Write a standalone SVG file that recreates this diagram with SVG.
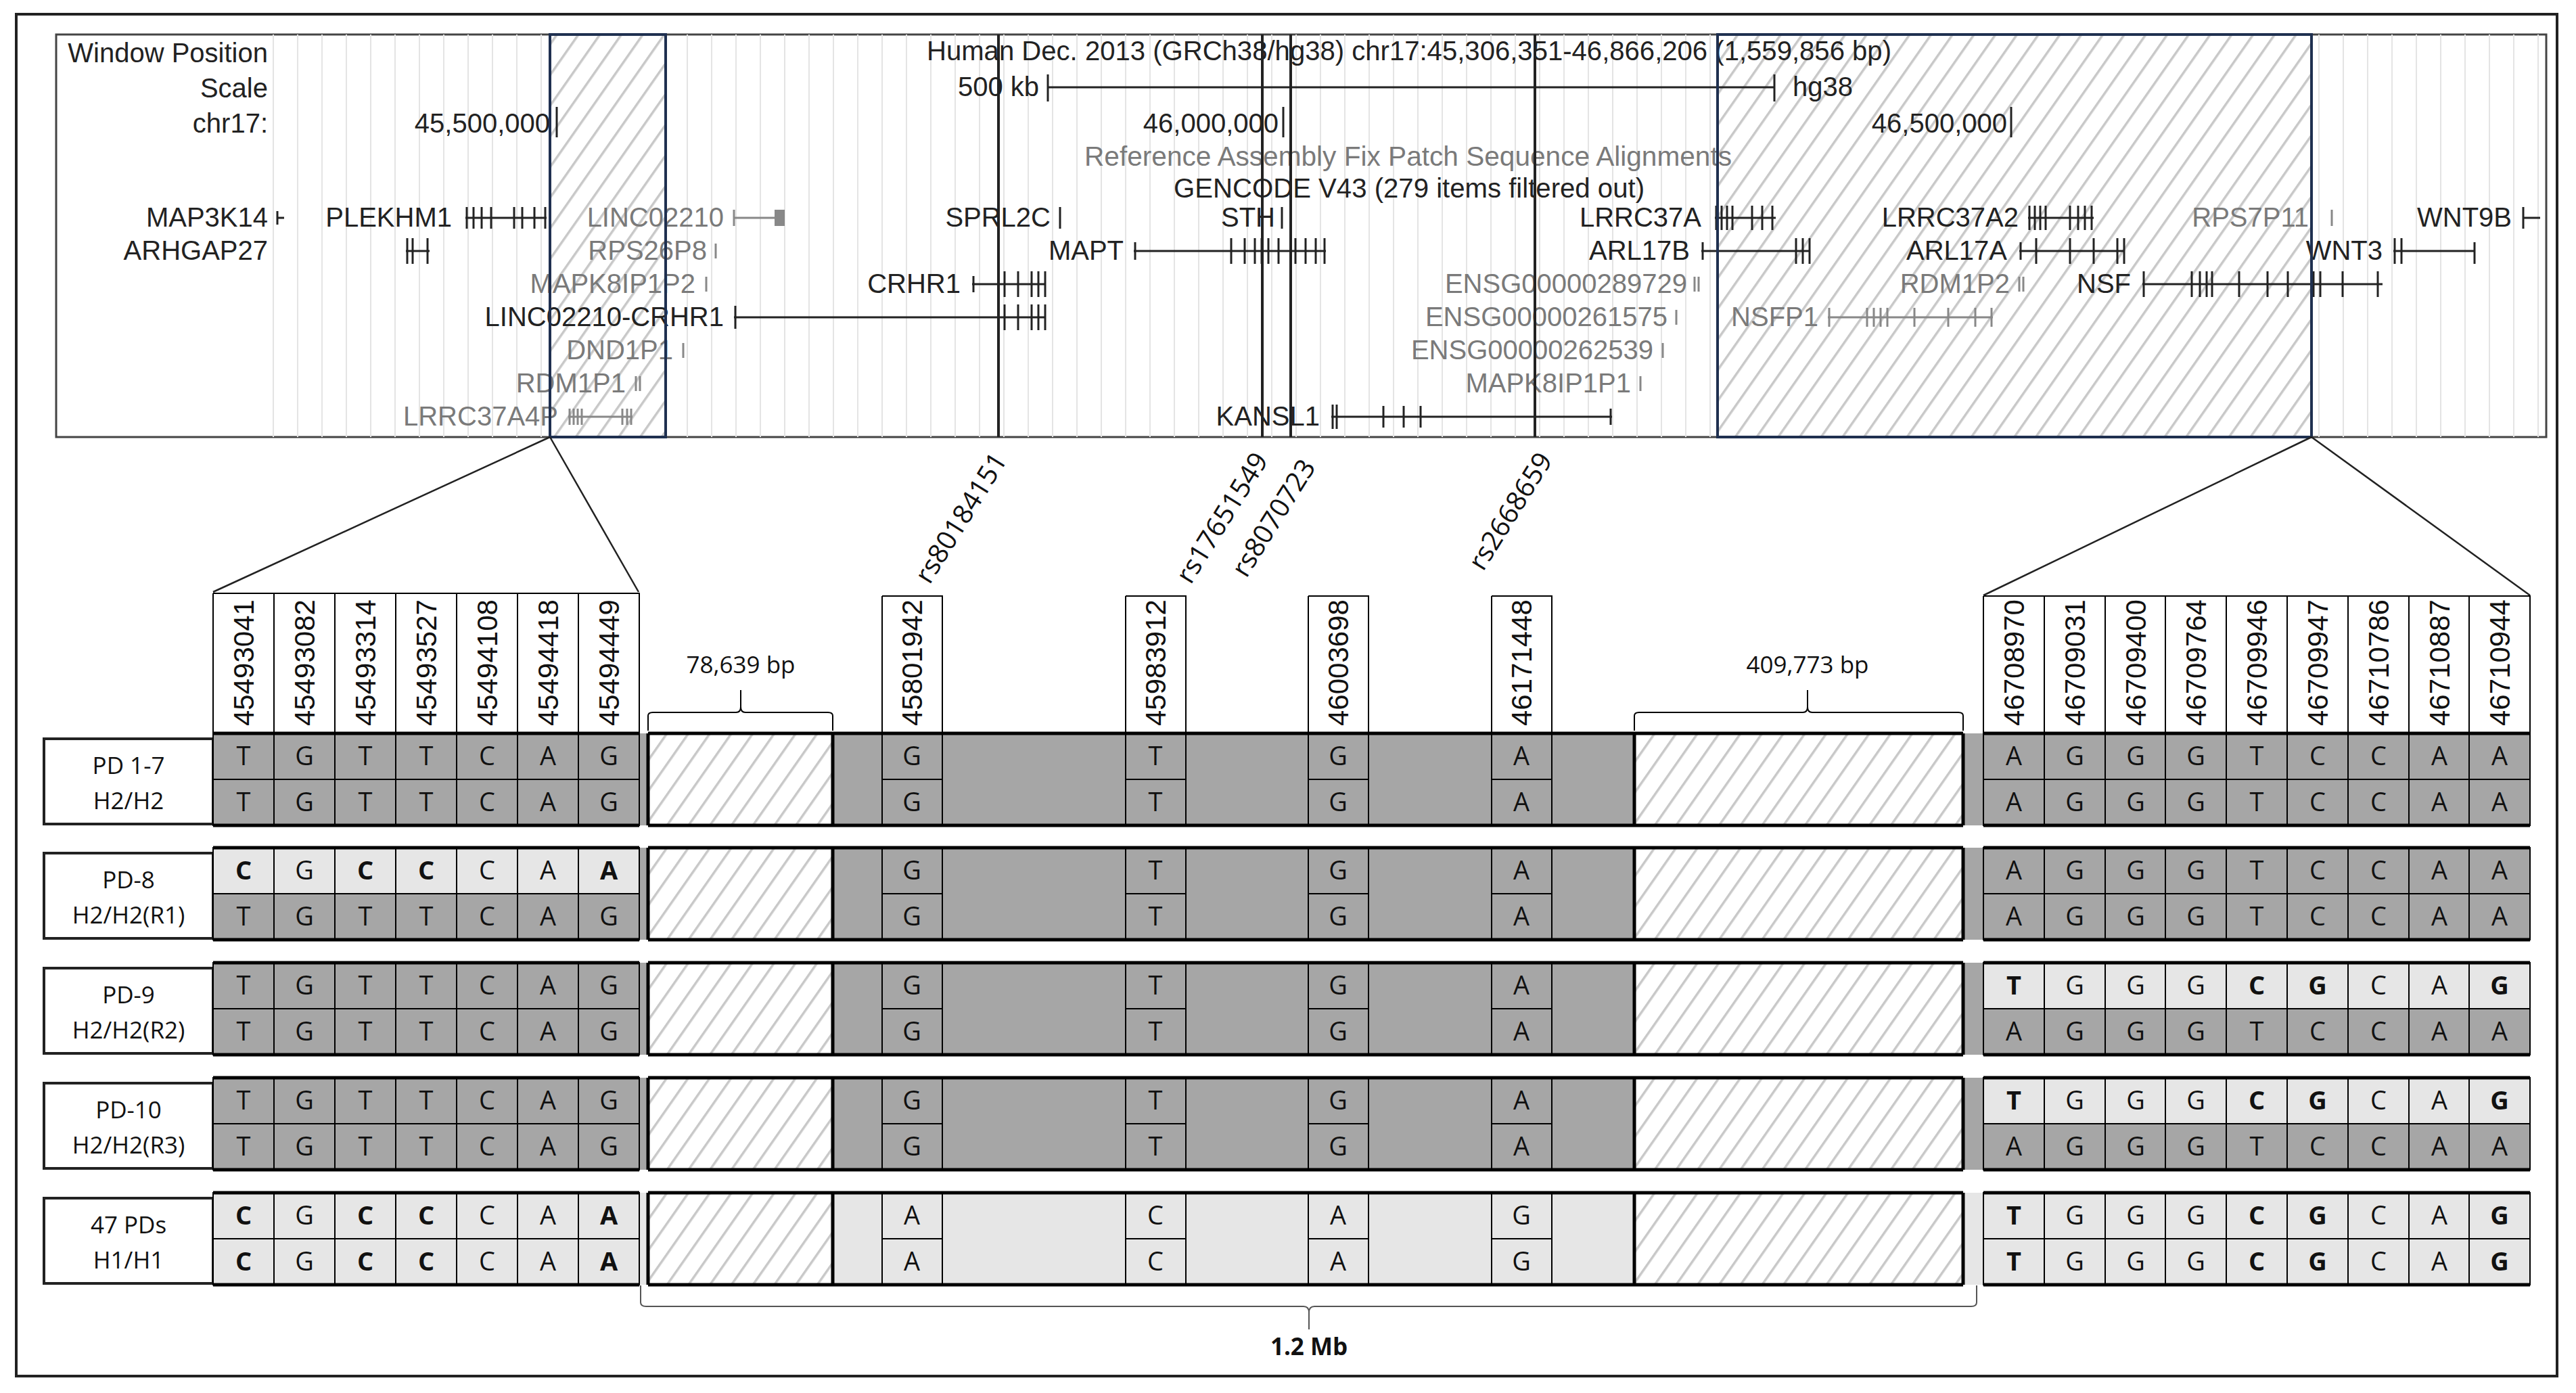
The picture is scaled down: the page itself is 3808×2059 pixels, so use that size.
<svg xmlns="http://www.w3.org/2000/svg" xmlns:xlink="http://www.w3.org/1999/xlink" width="3808" height="2059" viewBox="0 0 3808 2059">
<style>
.t{font-family:"Liberation Sans",Arial,sans-serif;font-size:40px;fill:#222}
.g{font-family:"Liberation Sans",Arial,sans-serif;font-size:40px;fill:#7a7a7a}
.e{text-anchor:end}
.c{font-family:"Open Sans","Liberation Sans",sans-serif;font-size:38px;fill:#111;text-anchor:middle}
.b{font-weight:bold}
.n{font-family:"Liberation Sans",Arial,sans-serif;font-size:42px;fill:#111}
.lb{font-family:"Open Sans","Liberation Sans",sans-serif;font-size:35px;fill:#111;text-anchor:middle}
.gl{stroke:#222;stroke-width:3;fill:none}
.gg{stroke:#888;stroke-width:3;fill:none}
.dk{fill:#a6a6a6}
.lt{fill:#e6e6e6}
.th{stroke:#000;stroke-width:2;fill:none}
.tk{stroke:#000;stroke-width:5;fill:none}
</style>
<defs>
<pattern id="hatch" patternUnits="userSpaceOnUse" width="26" height="26" patternTransform="rotate(35)">
<rect width="26" height="26" fill="#fff"/><line x1="0" y1="0" x2="0" y2="26" stroke="#c8c8c8" stroke-width="7"/>
</pattern>
<text id="L2" class="c">
<tspan x="360">T</tspan><tspan x="450">G</tspan><tspan x="540">T</tspan><tspan x="630">T</tspan><tspan x="720">C</tspan><tspan x="810">A</tspan><tspan x="900">G</tspan></text>
<text id="L1" class="c">
<tspan x="360" class="b">C</tspan><tspan x="450">G</tspan><tspan x="540" class="b">C</tspan><tspan x="630" class="b">C</tspan><tspan x="720">C</tspan><tspan x="810">A</tspan><tspan x="900" class="b">A</tspan></text>
<text id="M2" class="c"><tspan x="1348">G</tspan><tspan x="1708">T</tspan><tspan x="1978">G</tspan><tspan x="2249">A</tspan></text>
<text id="M1" class="c"><tspan x="1348">A</tspan><tspan x="1708">C</tspan><tspan x="1978">A</tspan><tspan x="2249">G</tspan></text>
<text id="R2" class="c"><tspan x="2977">A</tspan><tspan x="3067">G</tspan><tspan x="3157">G</tspan><tspan x="3246">G</tspan><tspan x="3336">T</tspan><tspan x="3426">C</tspan><tspan x="3516">C</tspan><tspan x="3606">A</tspan><tspan x="3695">A</tspan></text>
<text id="R1" class="c"><tspan x="2977" class="b">T</tspan><tspan x="3067">G</tspan><tspan x="3157">G</tspan><tspan x="3246">G</tspan><tspan x="3336" class="b">C</tspan><tspan x="3426" class="b">G</tspan><tspan x="3516">C</tspan><tspan x="3606">A</tspan><tspan x="3695" class="b">G</tspan></text>
<path id="grid" d="M405 0V136M495 0V136M585 0V136M675 0V136M765 0V136M855 0V136M3022 0V136M3112 0V136M3201 0V136M3291 0V136M3381 0V136M3471 0V136M3561 0V136M3650 0V136M315 68H945M2932 68H3740M1304 68H1393M1664 68H1753M1934 68H2023M2205 68H2294" class="th" stroke-width="2.5"/>
<g id="frame">
<rect x="315" y="0" width="630" height="136" class="th"/>
<rect x="2932" y="0" width="808" height="136" class="th"/>
<rect x="1304" y="0" width="89" height="136" class="th"/>
<rect x="1664" y="0" width="89" height="136" class="th"/>
<rect x="1934" y="0" width="89" height="136" class="th"/>
<rect x="2205" y="0" width="89" height="136" class="th"/>
<rect x="958" y="0" width="273" height="136" fill="url(#hatch)"/>
<rect x="2416" y="0" width="486" height="136" fill="url(#hatch)"/>
<path d="M315 0H945M315 136H945M958 0H1231M958 136H1231M1231 0H2416M1231 136H2416M2416 0H2902M2416 136H2902M2932 0H3740M2932 136H3740M958 0V136M1231 0V136M2416 0V136M2902 0V136" class="tk" stroke-width="4"/>
</g>
</defs>
<rect width="3808" height="2059" fill="#fff"/>
<rect x="24" y="21" width="3756" height="2013" fill="none" stroke="#222" stroke-width="4"/>

<g id="browser">
<rect x="83" y="51" width="3681" height="595" fill="#fff" stroke="#444" stroke-width="3"/>
<g stroke="#e4e4e4" stroke-width="2">
<path d="M404 51V646M440 51V646M476 51V646M512 51V646M548 51V646M584 51V646M620 51V646M656 51V646M692 51V646M728 51V646M764 51V646M800 51V646M836 51V646M872 51V646M908 51V646M944 51V646M980 51V646M1016 51V646M1052 51V646M1088 51V646M1124 51V646M1160 51V646M1196 51V646M1232 51V646M1268 51V646M1304 51V646M1340 51V646M1376 51V646M1412 51V646M1448 51V646M1484 51V646M1520 51V646M1556 51V646M1592 51V646M1628 51V646M1664 51V646M1700 51V646M1736 51V646M1772 51V646M1808 51V646M1844 51V646M1880 51V646M1916 51V646M1952 51V646M1988 51V646M2024 51V646M2060 51V646M2096 51V646M2132 51V646M2168 51V646M2204 51V646M2240 51V646M2276 51V646M2312 51V646M2348 51V646M2384 51V646M2420 51V646M2456 51V646M2492 51V646M2528 51V646M3428 51V646M3464 51V646M3500 51V646M3536 51V646M3572 51V646M3608 51V646M3644 51V646M3680 51V646M3716 51V646M3752 51V646"/>
</g>
<rect x="813" y="51" width="171" height="595" fill="url(#hatch)"/>
<rect x="2539" y="51" width="878" height="595" fill="url(#hatch)"/>
<text class="t e" x="396" y="92">Window Position</text>
<text class="t e" x="396" y="144">Scale</text>
<text class="t e" x="396" y="196">chr17:</text>
<text class="t" x="1370" y="89" textLength="1426" lengthAdjust="spacingAndGlyphs">Human Dec. 2013 (GRCh38/hg38)   chr17:45,306,351-46,866,206 (1,559,856 bp)</text>
<text class="t e" x="1536" y="142">500 kb</text>
<path d="M1549 129H2623M1549 110V150M2623 110V150" class="gl"/>
<text class="t" x="2650" y="142">hg38</text>
<text class="t e" x="813" y="196">45,500,000</text><path d="M823 158V203" class="gl"/>
<text class="t e" x="1890" y="196">46,000,000</text><path d="M1897 158V203" class="gl"/>
<text class="t e" x="2967" y="196">46,500,000</text><path d="M2973 158V203" class="gl"/>
<text class="g" x="1603" y="245" textLength="957" lengthAdjust="spacingAndGlyphs">Reference Assembly Fix Patch Sequence Alignments</text>
<text class="t" x="1735" y="292" textLength="696" lengthAdjust="spacingAndGlyphs">GENCODE V43 (279 items filtered out)</text>
<text class="t e" x="396" y="335">MAP3K14</text><path d="M410 322H420M410 312V332" class="gl"/>
<text class="t e" x="668" y="335">PLEKHM1</text><path d="M688 322H808M690 306V338M700 306V338M712 306V338M726 306V338M760 306V338M772 306V338M790 306V338M806 306V338" class="gl" stroke-width="5"/>
<text class="g e" x="1070" y="335">LINC02210</text><path d="M1085 322H1160M1085 310V334" class="gg"/><rect x="1145" y="310" width="15" height="24" fill="#888"/>
<text class="t e" x="1553" y="335">SPRL2C</text><path d="M1567 306V338" class="gl"/>
<text class="t e" x="1885" y="335">STH</text><path d="M1895 306V338" class="gl"/>
<text class="t e" x="2515" y="335">LRRC37A</text><path d="M2535 322H2625M2537 304V340M2545 304V340M2553 304V340M2561 304V340M2590 304V340M2605 304V340M2620 304V340" class="gl" stroke-width="5"/>
<text class="t e" x="2984" y="335">LRRC37A2</text><path d="M2998 322H3095M3000 304V340M3008 304V340M3016 304V340M3024 304V340M3060 304V340M3072 304V340M3082 304V340M3092 304V340" class="gl" stroke-width="5"/>
<text class="g e" x="3413" y="335">RPS7P11</text><path d="M3447 310V334" class="gg"/>
<text class="t e" x="3713" y="335">WNT9B</text><path d="M3730 322H3755M3730 306V338" class="gl"/>
<text class="t e" x="396" y="384">ARHGAP27</text><path d="M600 371H635M602 352V390M610 352V390M632 352V390" class="gl" stroke-width="6"/>
<text class="g e" x="1045" y="384">RPS26P8</text><path d="M1058 360V382" class="gg"/>
<text class="t e" x="1661" y="384">MAPT</text><path d="M1676 371H1960M1678 358V384M1820 352V390M1840 352V390M1855 352V390M1865 352V390M1875 352V390M1890 352V390M1915 352V390M1930 352V390M1945 352V390M1958 352V390" class="gl"/>
<text class="t e" x="2498" y="384">ARL17B</text><path d="M2515 371H2675M2517 358V384M2655 352V390M2665 352V390M2675 352V390" class="gl"/>
<text class="t e" x="2967" y="384">ARL17A</text><path d="M2985 371H3140M2987 358V384M3010 352V390M3060 352V390M3095 352V390M3130 352V390M3140 352V390" class="gl"/>
<text class="t e" x="3522" y="384">WNT3</text><path d="M3538 371H3658M3540 352V390M3550 352V390M3658 358V390" class="gl"/>
<text class="g e" x="1028" y="433">MAPK8IP1P2</text><path d="M1044 409V431" class="gg"/>
<text class="t e" x="1420" y="433">CRHR1</text><path d="M1437 420H1545M1439 408V432M1485 401V439M1505 401V439M1525 401V439M1535 401V439M1545 401V439" class="gl"/>
<text class="g e" x="2494" y="433">ENSG00000289729</text><path d="M2505 409V431M2511 409V431" class="gg"/>
<text class="g e" x="2971" y="433">RDM1P2</text><path d="M2985 409V431M2991 409V431" class="gg"/>
<text class="t e" x="3150" y="433">NSF</text><path d="M3167 420H3522M3169 401V439M3240 401V439M3252 401V439M3262 401V439M3270 401V439M3310 401V439M3352 401V439M3382 401V439M3420 401V439M3430 401V439M3463 401V439M3515 401V439" class="gl" stroke-width="4"/>
<text class="t e" x="1070" y="482">LINC02210-CRHR1</text><path d="M1085 469H1545M1087 452V486M1485 450V488M1505 450V488M1525 450V488M1535 450V488M1545 450V488" class="gl"/>
<text class="g e" x="2465" y="482">ENSG00000261575</text><path d="M2478 458V480" class="gg"/>
<text class="g e" x="2688" y="482">NSFP1</text><path d="M2702 469H2946M2704 455V483M2760 455V483M2770 455V483M2780 455V483M2790 455V483M2830 455V483M2880 455V483M2920 455V483M2944 455V483" class="gg"/>
<text class="g e" x="995" y="531">DND1P1</text><path d="M1010 507V529" class="gg"/>
<text class="g e" x="2444" y="531">ENSG00000262539</text><path d="M2458 507V529" class="gg"/>
<text class="g e" x="925" y="580">RDM1P1</text><path d="M940 556V578M946 556V578" class="gg"/>
<text class="g e" x="2411" y="580">MAPK8IP1P1</text><path d="M2425 556V578" class="gg"/>
<text class="g e" x="825" y="629">LRRC37A4P</text><path d="M840 616H935M842 604V628M848 604V628M854 604V628M860 604V628M920 604V628M927 604V628M933 604V628" class="gg"/>
<text class="t e" x="1951" y="629">KANSL1</text><path d="M1968 616H2383M1970 598V634M1976 598V634M2045 600V632M2075 600V632M2100 600V632M2381 604V628" class="gl" stroke-width="4"/>
<path d="M1476 51V646M1866 51V646M1908 51V646M2269 51V646" stroke="#222" stroke-width="4"/>
<rect x="813" y="51" width="171" height="595" fill="none" stroke="#1f3050" stroke-width="4"/>
<rect x="2539" y="51" width="878" height="595" fill="none" stroke="#1f3050" stroke-width="4"/>
</g>

<g id="connectors" stroke="#222" stroke-width="2.5" fill="none">
<path d="M813 646L315 875M813 646L944 875M3417 646L2932 880M3417 646L3740 880"/>
</g>

<g id="snp-labels" font-family="'Open Sans','Liberation Sans',sans-serif" font-size="40" fill="#111" text-anchor="end">
<text transform="translate(1490,680) rotate(-58)">rs80184151</text>
<text transform="translate(1876,680) rotate(-58)">rs17651549</text>
<text transform="translate(1946,690) rotate(-58)">rs8070723</text>
<text transform="translate(2296,680) rotate(-58)">rs2668659</text>
</g>

<g id="header">
<path d="M315 877H945V1084M315 877V1084M405 877V1084M495 877V1084M585 877V1084M675 877V1084M765 877V1084M855 877V1084M2932 881H3740V1084M2932 881V1084M3022 881V1084M3112 881V1084M3201 881V1084M3291 881V1084M3381 881V1084M3471 881V1084M3561 881V1084M3650 881V1084M1304 881H1393V1084M1304 881V1084M1664 881H1753V1084M1664 881V1084M1934 881H2023V1084M1934 881V1084M2205 881H2294V1084M2205 881V1084" class="th" stroke-width="3"/>
<g class="n">
<text transform="translate(375,1073) rotate(-90)">45493041</text>
<text transform="translate(465,1073) rotate(-90)">45493082</text>
<text transform="translate(555,1073) rotate(-90)">45493314</text>
<text transform="translate(645,1073) rotate(-90)">45493527</text>
<text transform="translate(735,1073) rotate(-90)">45494108</text>
<text transform="translate(825,1073) rotate(-90)">45494418</text>
<text transform="translate(915,1073) rotate(-90)">45494449</text>
<text transform="translate(1363,1073) rotate(-90)">45801942</text>
<text transform="translate(1723,1073) rotate(-90)">45983912</text>
<text transform="translate(1993,1073) rotate(-90)">46003698</text>
<text transform="translate(2264,1073) rotate(-90)">46171448</text>
<text transform="translate(2992,1073) rotate(-90)">46708970</text>
<text transform="translate(3082,1073) rotate(-90)">46709031</text>
<text transform="translate(3172,1073) rotate(-90)">46709400</text>
<text transform="translate(3261,1073) rotate(-90)">46709764</text>
<text transform="translate(3351,1073) rotate(-90)">46709946</text>
<text transform="translate(3441,1073) rotate(-90)">46709947</text>
<text transform="translate(3531,1073) rotate(-90)">46710786</text>
<text transform="translate(3621,1073) rotate(-90)">46710887</text>
<text transform="translate(3710,1073) rotate(-90)">46710944</text>
</g>
<path d="M958 1080V1058Q958 1053 965 1053H1088Q1095 1053 1095 1045V1020M1095 1045Q1095 1053 1102 1053H1224Q1231 1053 1231 1058V1080" class="th"/>
<text class="lb" x="1095" y="995">78,639 bp</text>
<path d="M2416 1080V1058Q2416 1053 2423 1053H2665Q2672 1053 2672 1045V1020M2672 1045Q2672 1053 2679 1053H2895Q2902 1053 2902 1058V1080" class="th"/>
<text class="lb" x="2672" y="995">409,773 bp</text>
</g>

<g id="row-pd1-7" transform="translate(0,1084)">
<rect x="65" y="8" width="250" height="126" fill="#fff" stroke="#222" stroke-width="4"/>
<text class="lb" x="190" y="60">PD 1-7</text><text class="lb" x="190" y="112">H2/H2</text>
<rect x="945" y="0" width="1987" height="136" class="dk"/>
<rect x="315" y="0" width="630" height="136" class="dk"/>
<rect x="2932" y="0" width="808" height="136" class="dk"/>
<use xlink:href="#frame"/><use xlink:href="#grid"/>
<use xlink:href="#L2" y="47"/><use xlink:href="#L2" y="115"/>
<use xlink:href="#M2" y="47"/><use xlink:href="#M2" y="115"/>
<use xlink:href="#R2" y="47"/><use xlink:href="#R2" y="115"/>
</g>

<g id="row-pd8" transform="translate(0,1253)">
<rect x="65" y="8" width="250" height="126" fill="#fff" stroke="#222" stroke-width="4"/>
<text class="lb" x="190" y="60">PD-8</text><text class="lb" x="190" y="112">H2/H2(R1)</text>
<rect x="945" y="0" width="1987" height="136" class="dk"/>
<rect x="315" y="0" width="630" height="68" class="lt"/>
<rect x="315" y="68" width="630" height="68" class="dk"/>
<rect x="2932" y="0" width="808" height="136" class="dk"/>
<use xlink:href="#frame"/><use xlink:href="#grid"/>
<use xlink:href="#L1" y="47"/><use xlink:href="#L2" y="115"/>
<use xlink:href="#M2" y="47"/><use xlink:href="#M2" y="115"/>
<use xlink:href="#R2" y="47"/><use xlink:href="#R2" y="115"/>
</g>

<g id="row-pd9" transform="translate(0,1423)">
<rect x="65" y="8" width="250" height="126" fill="#fff" stroke="#222" stroke-width="4"/>
<text class="lb" x="190" y="60">PD-9</text><text class="lb" x="190" y="112">H2/H2(R2)</text>
<rect x="945" y="0" width="1987" height="136" class="dk"/>
<rect x="315" y="0" width="630" height="136" class="dk"/>
<rect x="2932" y="0" width="808" height="68" class="lt"/>
<rect x="2932" y="68" width="808" height="68" class="dk"/>
<use xlink:href="#frame"/><use xlink:href="#grid"/>
<use xlink:href="#L2" y="47"/><use xlink:href="#L2" y="115"/>
<use xlink:href="#M2" y="47"/><use xlink:href="#M2" y="115"/>
<use xlink:href="#R1" y="47"/><use xlink:href="#R2" y="115"/>
</g>

<g id="row-pd10" transform="translate(0,1593)">
<rect x="65" y="8" width="250" height="126" fill="#fff" stroke="#222" stroke-width="4"/>
<text class="lb" x="190" y="60">PD-10</text><text class="lb" x="190" y="112">H2/H2(R3)</text>
<rect x="945" y="0" width="1987" height="136" class="dk"/>
<rect x="315" y="0" width="630" height="136" class="dk"/>
<rect x="2932" y="0" width="808" height="68" class="lt"/>
<rect x="2932" y="68" width="808" height="68" class="dk"/>
<use xlink:href="#frame"/><use xlink:href="#grid"/>
<use xlink:href="#L2" y="47"/><use xlink:href="#L2" y="115"/>
<use xlink:href="#M2" y="47"/><use xlink:href="#M2" y="115"/>
<use xlink:href="#R1" y="47"/><use xlink:href="#R2" y="115"/>
</g>

<g id="row-47pds" transform="translate(0,1763)">
<rect x="65" y="8" width="250" height="126" fill="#fff" stroke="#222" stroke-width="4"/>
<text class="lb" x="190" y="60">47 PDs</text><text class="lb" x="190" y="112">H1/H1</text>
<rect x="945" y="0" width="1987" height="136" class="lt"/>
<rect x="315" y="0" width="630" height="136" class="lt"/>
<rect x="2932" y="0" width="808" height="136" class="lt"/>
<use xlink:href="#frame"/><use xlink:href="#grid"/>
<use xlink:href="#L1" y="47"/><use xlink:href="#L1" y="115"/>
<use xlink:href="#M1" y="47"/><use xlink:href="#M1" y="115"/>
<use xlink:href="#R1" y="47"/><use xlink:href="#R1" y="115"/>
</g>

<g id="span">
<path d="M947 1900V1925Q947 1931 955 1931H1927Q1935 1931 1935 1940V1965M1935 1940Q1935 1931 1943 1931H2914Q2922 1931 2922 1925V1900" stroke="#555" stroke-width="2" fill="none"/>
<text class="lb b" x="1935" y="2003">1.2 Mb</text>
</g>
</svg>
